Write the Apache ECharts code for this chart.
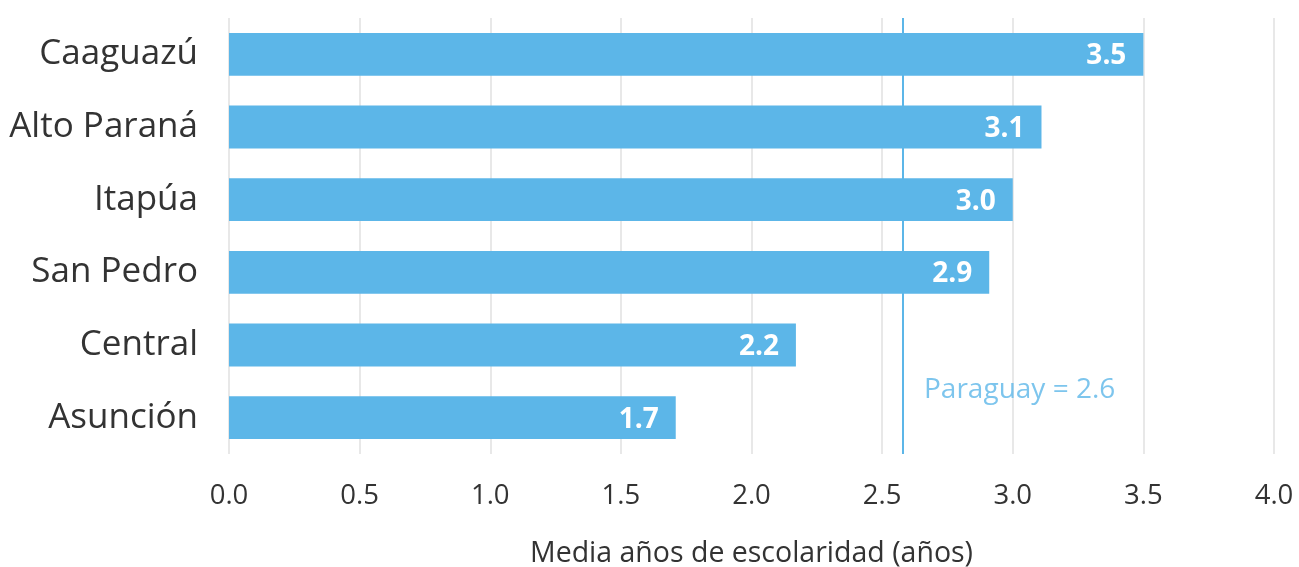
<!DOCTYPE html>
<html>
<head>
<meta charset="utf-8">
<script src="https://cdn.jsdelivr.net/npm/echarts@6/dist/echarts.min.js"></script>
<style>
html,body{margin:0;padding:0;background:#fff;}
#c{width:1299px;height:567px;}
</style>
</head>
<body>
<div id="c"></div>
<script>
const categories = ['Caaguazú', 'Alto Paraná', 'Itapúa', 'San Pedro', 'Central', 'Asunción'];
const values = [3.5, 3.11, 3.0, 2.91, 2.17, 1.71];
const labels = ['3.5', '3.1', '3.0', '2.9', '2.2', '1.7'];
const refValue = 2.58;
const refLabel = 'Paraguay = 2.6';
const axisTitle = 'Media años de escolaridad (años)';

const FONT = '"Open Sans"';
const BLUE = '#5cb6e8';
const TEXT = '#333333';

const chart = echarts.init(document.getElementById('c'), null, {renderer: 'canvas'});
chart.setOption({
  animation: false,
  grid: {left: 229, right: 25, top: 18, bottom: 113, containLabel: false, outerBoundsMode: 'none'},
  xAxis: {
    type: 'value', min: 0, max: 4, interval: 0.5,
    axisLine: {show: false}, axisTick: {show: false},
    splitLine: {show: true, lineStyle: {color: '#e8e8e8', width: 2}},
    axisLabel: {
      color: TEXT, fontFamily: FONT, fontSize: 27.5, margin: 28,
      formatter: v => v.toFixed(1)
    },
    name: axisTitle, nameLocation: 'middle', nameGap: 85,
    nameTextStyle: {color: TEXT, fontFamily: FONT, fontSize: 28.5}
  },
  yAxis: {
    type: 'category', data: categories, inverse: true,
    axisLine: {show: false}, axisTick: {show: false}, splitLine: {show: false},
    axisLabel: {color: TEXT, fontFamily: FONT, fontSize: 35, margin: 31, padding: [7, 0, 0, 0]}
  },
  series: [
    {
      type: 'bar', data: values, barWidth: '59%',
      itemStyle: {color: BLUE},
      label: {
        show: true, position: 'insideRight', distance: 17, offset: [0, 2],
        color: '#fff', fontFamily: FONT, fontWeight: 'bold', fontSize: 28,
        formatter: p => labels[p.dataIndex]
      },
      markLine: {
        silent: true, symbol: 'none',
        lineStyle: {color: BLUE, width: 2, type: 'solid'},
        label: {show: false},
        data: [{xAxis: refValue}]
      },
      z: 3
    },
    {
      type: 'scatter', symbolSize: 0,
      data: [[refValue, categories[categories.length - 1]]],
      label: {
        show: true, position: 'right', distance: 21, offset: [0, -28],
        formatter: refLabel, color: BLUE, fontFamily: FONT, fontSize: 28
      },
      z: 4
    }
  ]
});
</script>
</body>
</html>
